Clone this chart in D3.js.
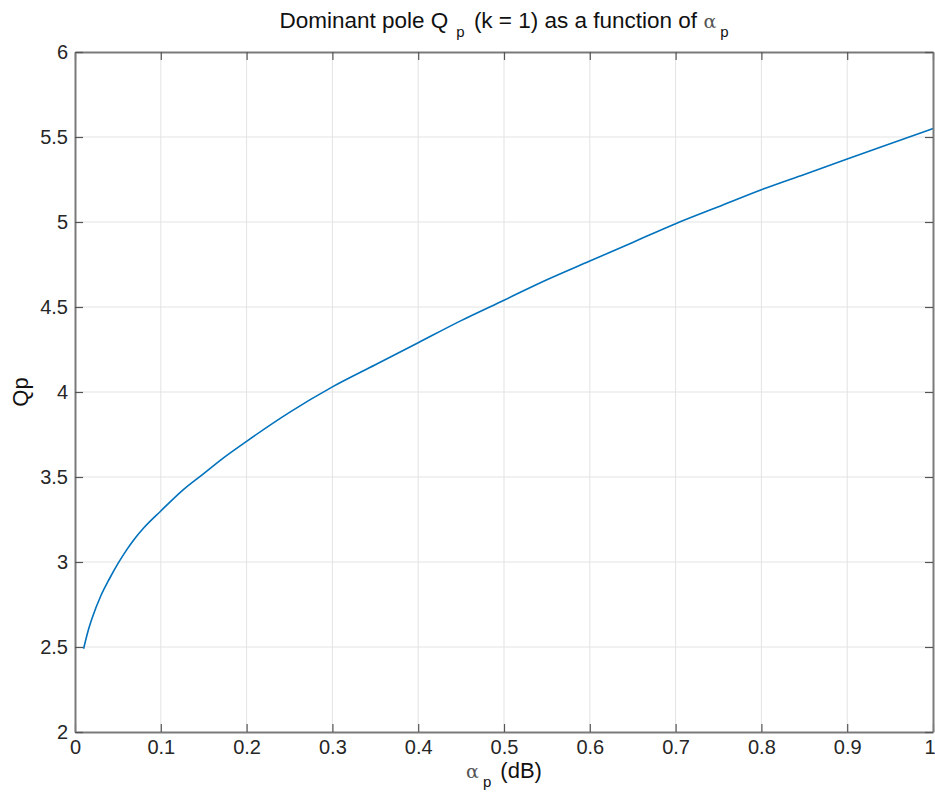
<!DOCTYPE html>
<html lang="en">
    <head>
        <meta charset="utf-8">
        <title>Dominant pole Qp</title>
        <script type="text/javascript" src="https://cdn.jsdelivr.net/npm/d3@7"></script>
        <style>
            body { margin: 0; background: #fff; }
            text { font-family: "Liberation Sans", Arial, sans-serif; }
        </style>
    </head>
    <body>
    	<script type="text/javascript">

			//Width and height
			var w = 935;
			var h = 792;
			var margin = {top: 52, right: 2, bottom: 60, left: 75};

			// alpha_p in dB and the dominant pole Q
			var alphaP = [0.01, 0.015, 0.02, 0.03, 0.04, 0.05, 0.06, 0.07, 0.08, 0.1, 0.125, 0.15,
			              0.175, 0.2, 0.25, 0.3, 0.35, 0.4, 0.45, 0.5, 0.55, 0.6, 0.65, 0.7, 0.75,
			              0.8, 0.85, 0.9, 0.95, 1.0];
			var qp = [2.49, 2.59, 2.67, 2.80, 2.90, 2.99, 3.07, 3.14, 3.20, 3.30, 3.42, 3.52,
			          3.62, 3.71, 3.88, 4.03, 4.16, 4.29, 4.42, 4.54, 4.66, 4.77, 4.88, 4.99, 5.09,
			          5.19, 5.28, 5.37, 5.46, 5.55];

			var xTicks = [0, 0.1, 0.2, 0.3, 0.4, 0.5, 0.6, 0.7, 0.8, 0.9, 1];
			var yTicks = [2, 2.5, 3, 3.5, 4, 4.5, 5, 5.5, 6];

			var svg = d3.select("body")
						.append("svg")
						.attr("width", w)
						.attr("height", h);

			var x = d3.scaleLinear().domain([0, 1]).range([margin.left, w - margin.right]);
			var y = d3.scaleLinear().domain([2, 6]).range([h - margin.bottom, margin.top]);

			// grid
			svg.append("g")
			   .selectAll("line")
			   .data(xTicks.slice(1, -1))
			   .enter()
			   .append("line")
			   .attr("x1", function(d) { return x(d); })
			   .attr("x2", function(d) { return x(d); })
			   .attr("y1", y(2))
			   .attr("y2", y(6))
			   .attr("stroke", "#e3e3e3")
			   .attr("stroke-width", 1);
			svg.append("g")
			   .selectAll("line")
			   .data(yTicks.slice(1, -1))
			   .enter()
			   .append("line")
			   .attr("x1", x(0))
			   .attr("x2", x(1))
			   .attr("y1", function(d) { return y(d); })
			   .attr("y2", function(d) { return y(d); })
			   .attr("stroke", "#e3e3e3")
			   .attr("stroke-width", 1);

			// the curve
			var line = d3.line()
						 .x(function(d, i) { return x(alphaP[i]); })
						 .y(function(d) { return y(d); })
						 .curve(d3.curveMonotoneX);
			svg.append("path")
			   .datum(qp)
			   .attr("d", line)
			   .attr("fill", "none")
			   .attr("stroke", "#0072bd")
			   .attr("stroke-width", 1.6);

			// axes, ticks inward on all four sides
			var tickLen = 8;
			var axisColor = "#7a7a7a";
			var gBottom = svg.append("g")
			   .attr("transform", "translate(0," + y(2) + ")")
			   .call(d3.axisBottom(x).tickValues(xTicks).tickSizeInner(-tickLen).tickSizeOuter(0)
			   		.tickPadding(8).tickFormat(d3.format("")));
			var gTop = svg.append("g")
			   .attr("transform", "translate(0," + y(6) + ")")
			   .call(d3.axisTop(x).tickValues(xTicks).tickSizeInner(-tickLen).tickSizeOuter(0).tickFormat(""));
			var gLeft = svg.append("g")
			   .attr("transform", "translate(" + x(0) + ",0)")
			   .call(d3.axisLeft(y).tickValues(yTicks).tickSizeInner(-tickLen).tickSizeOuter(0)
			   		.tickPadding(7).tickFormat(d3.format("")));
			var gRight = svg.append("g")
			   .attr("transform", "translate(" + x(1) + ",0)")
			   .call(d3.axisRight(y).tickValues(yTicks).tickSizeInner(-tickLen).tickSizeOuter(0).tickFormat(""));

			[gBottom, gTop, gLeft, gRight].forEach(function(g) {
				g.select(".domain").attr("stroke", axisColor).attr("stroke-width", 2);
				g.selectAll(".tick line").attr("stroke", "#555").attr("stroke-width", 1.2);
				g.selectAll(".tick text")
				 .attr("font-family", "Liberation Sans, Arial, sans-serif")
				 .attr("font-size", "20px")
				 .attr("fill", "#262626");
			});
			// last x label sits on the window edge, keep it inside
			gBottom.selectAll(".tick text").filter(function(d) { return d === 1; })
			       .attr("text-anchor", "end").attr("dx", 2);

			// title
			var title = svg.append("text")
			   .attr("x", (x(0) + x(1)) / 2)
			   .attr("y", 28)
			   .attr("text-anchor", "middle")
			   .attr("font-size", "22.5px")
			   .attr("fill", "#111");
			title.append("tspan").text("Dominant pole Q");
			title.append("tspan").attr("font-size", "15px").attr("dx", 8).attr("dy", 9).text("p");
			title.append("tspan").attr("dx", 3).attr("dy", -9).text(" (k = 1) as a function of ");
			title.append("tspan").attr("font-family", "DejaVu Serif, serif").attr("font-size", "19px")
			     .attr("fill", "#555").text("\u03b1");
			title.append("tspan").attr("font-size", "15px").attr("dx", 4).attr("dy", 9).text("p");

			// x label
			var xl = svg.append("text")
			   .attr("x", (x(0) + x(1)) / 2)
			   .attr("y", 778)
			   .attr("text-anchor", "middle")
			   .attr("font-size", "22px")
			   .attr("fill", "#111");
			xl.append("tspan").attr("font-family", "DejaVu Serif, serif").attr("font-size", "19px")
			  .attr("fill", "#555").text("\u03b1");
			xl.append("tspan").attr("font-size", "15px").attr("dx", 4).attr("dy", 9).text("p");
			xl.append("tspan").attr("dx", 3).attr("dy", -9).text(" (dB)");

			// y label
			svg.append("text")
			   .attr("transform", "translate(28," + y(4) + ") rotate(-90)")
			   .attr("text-anchor", "middle")
			   .attr("font-size", "22px")
			   .attr("fill", "#111")
			   .text("Qp");

		</script>
    </body>
</html>
